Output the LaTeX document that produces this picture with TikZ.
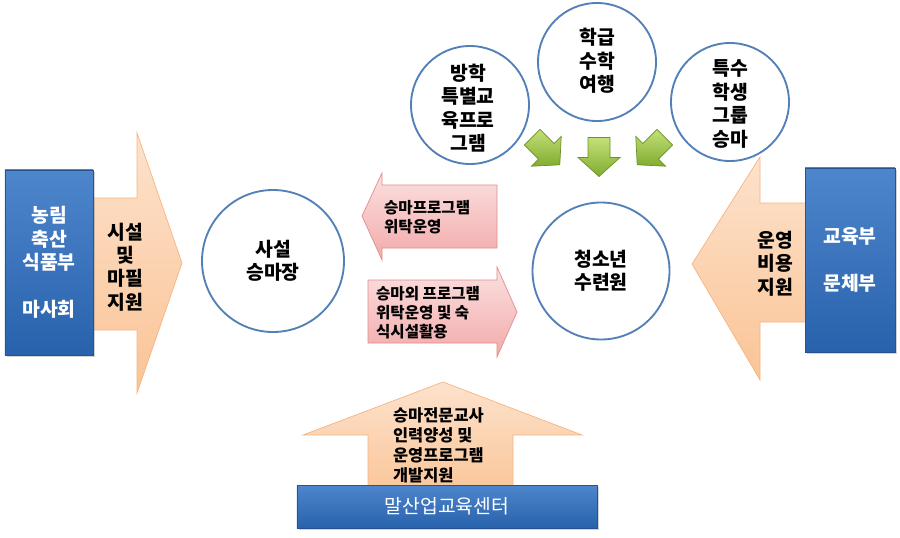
\documentclass[tikz,border=0pt]{standalone}
\usepackage{fontspec}
\setmainfont{Noto Sans CJK KR}
\usetikzlibrary{shadows}

\definecolor{govtop}{RGB}{78,134,204}
\definecolor{govbot}{RGB}{40,98,172}
\definecolor{govedge}{RGB}{38,84,146}
\definecolor{peachlt}{RGB}{253,226,204}
\definecolor{peachdk}{RGB}{250,196,150}
\definecolor{peachedge}{RGB}{246,180,130}
\definecolor{pinklt}{RGB}{252,224,224}
\definecolor{pinkdk}{RGB}{242,170,170}
\definecolor{pinkedge}{RGB}{222,142,142}
\definecolor{leaflt}{RGB}{196,224,120}
\definecolor{leafdk}{RGB}{128,172,48}
\definecolor{leafedge}{RGB}{106,146,36}
\definecolor{ringblue}{RGB}{84,128,184}

\begin{document}
\begin{tikzpicture}[x=0.03cm,y=-0.03cm,
	govbox/.style={draw=govedge,line width=0.6pt,top color=govtop,bottom color=govbot,drop shadow={opacity=0.35,shadow xshift=1.5pt,shadow yshift=-1.5pt}},
	peach/.style={draw=peachedge,line width=0.6pt,top color=peachlt,bottom color=peachdk},
	pinkarrow/.style={draw=pinkedge,line width=0.6pt,top color=pinklt,bottom color=pinkdk},
	leaf/.style={draw=leafedge,line width=0.6pt,top color=leaflt,bottom color=leafdk},
	ring/.style={circle,draw=ringblue,line width=1.6pt,fill=white,inner sep=0pt},
	bigtxt/.style={font=\fontsize{16.5}{20}\selectfont\bfseries,align=center},
	smalltxt/.style={font=\fontsize{13.3}{16.2}\selectfont\bfseries,align=left,anchor=west}]
	\useasboundingbox (0,0) rectangle (900,538);
	% big peach arrows
	\draw[peach] (60,198) -- (137,198) -- (137,133) -- (182,263) -- (137,393) -- (137,330) -- (60,330) -- cycle;
	\draw[peach] (840,203) -- (760,203) -- (760,157) -- (692,264) -- (760,380) -- (760,322) -- (840,322) -- cycle;
	\draw[peach] (368,500) -- (368,435) -- (303,435) -- (443,382) -- (582,435) -- (513,435) -- (513,500) -- cycle;
	% pink arrows
	\draw[pinkarrow] (497,185) -- (382,185) -- (382,173) -- (362,216) -- (382,260) -- (382,248) -- (497,248) -- cycle;
	\draw[pinkarrow] (368,280) -- (497,280) -- (497,267) -- (517,312) -- (497,357) -- (497,343) -- (368,343) -- cycle;
	% green arrows
	\foreach \cx/\cy/\turn in {546/151/45, 599/157/0, 651/151/-45}
		\draw[leaf,shift={(\cx,\cy)},rotate=\turn] (-11,-19.5) -- (11,-19.5) -- (11,0.5) -- (21,0.5) -- (0,19.5) -- (-21,0.5) -- (-11,0.5) -- cycle;
	% boxes
	\node[govbox,minimum width=2.64cm,minimum height=5.55cm] (mafra) at (49,262.5) {};
	\node[govbox,minimum width=2.7cm,minimum height=5.52cm] (moe) at (850,260) {};
	\node[govbox,minimum width=9cm,minimum height=1.29cm] (center) at (447,506.5) {};
	% circles
	\node[ring,minimum size=4.26cm] (ranch) at (273,261) {};
	\node[ring,minimum size=4.11cm] (camp) at (601,271) {};
	\node[ring,minimum size=3.54cm] (after) at (470,105) {};
	\node[ring,minimum size=3.54cm] (trip) at (597,62) {};
	\node[ring,minimum size=3.54cm] (special) at (730,102) {};
	% texts
	\node[bigtxt,text=white] (mafratxt) at (mafra) {농림\\축산\\식품부\\[20pt]마사회};
	\node[bigtxt,text=white] (moetxt) at (moe) {교육부\\[20pt]문체부};
	\node[font=\fontsize{16.5}{20}\selectfont,text=white] (centertxt) at (center) {말산업교육센터};
	\node[bigtxt] (supply) at (125,267) {시설\\및\\마필\\지원};
	\node[bigtxt] (fund) at (775,263.5) {운영\\비용\\지원};
	\node[bigtxt] (ranchtxt) at (ranch) {사설\\승마장};
	\node[bigtxt] (camptxt) at (camp) {청소년\\수련원};
	\node[bigtxt] (aftertxt) at (468,108) {방학\\특별교\\육프로\\그램};
	\node[bigtxt] (triptxt) at (597,61) {학급\\수학\\여행};
	\node[bigtxt] (specialtxt) at (730,104) {특수\\학생\\그룹\\승마};
	\node[smalltxt] (ridetxt) at (380,217.5) {승마프로그램\\위탁운영};
	\node[smalltxt] (othertxt) at (372,313) {승마외 프로그램\\위탁운영 및 숙\\식시설활용};
	\node[font=\fontsize{14}{17}\selectfont\bfseries,align=left,anchor=west] (teachtxt) at (389,445) {승마전문교사\\인력양성 및\\운영프로그램\\개발지원};
\end{tikzpicture}
\end{document}
